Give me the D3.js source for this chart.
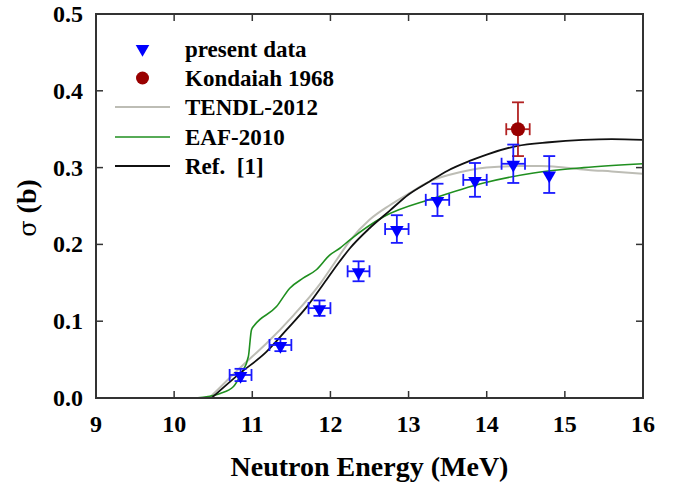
<!DOCTYPE html>
<html>
<head>
<meta charset="utf-8">
<script src="https://cdn.jsdelivr.net/npm/d3@7"></script>
<style>
  body { margin: 0; background: #fff; }
  text { font-family: "Liberation Serif", "Times New Roman", serif; font-weight: bold; fill: #000; }
</style>
</head>
<body>
<svg id="chart" width="682" height="485"></svg>
<script>
// present data: energy, sigma, dE, dSigma
const presentE   = [10.85, 11.36, 11.86, 12.36, 12.85, 13.37, 13.85, 14.34, 14.80];
const presentS   = [0.030, 0.069, 0.117, 0.165, 0.220, 0.258, 0.284, 0.305, 0.291];
const presentDE  = [0.14, 0.14, 0.14, 0.14, 0.15, 0.15, 0.15, 0.15, 0.0];
const presentDS  = [0.008, 0.008, 0.010, 0.013, 0.018, 0.021, 0.022, 0.025, 0.024];

const kondE = [14.40], kondS = [0.350], kondDE = [0.15], kondDS = [0.035];

const tendlE = [10.45, 10.6, 10.84, 11.0, 11.18, 11.53, 11.87, 12.08, 12.25, 12.5, 12.76, 13.0, 13.27, 13.5, 13.79, 14.0, 14.38, 14.7, 14.99, 15.3, 15.6, 16.0];
const tendlS = [0.000, 0.015, 0.039, 0.054, 0.071, 0.108, 0.149, 0.180, 0.205, 0.232, 0.251, 0.266, 0.282, 0.290, 0.297, 0.300, 0.302, 0.302, 0.300, 0.297, 0.295, 0.292];

const eafE = [10.27, 10.59, 10.76, 10.86, 10.95, 10.99, 11.03, 11.31, 11.48, 11.65, 11.82, 11.99, 12.12, 12.25, 12.68, 13.32, 13.96, 14.60, 15.24, 16.0];
const eafS = [0.000, 0.006, 0.015, 0.032, 0.054, 0.089, 0.095, 0.119, 0.143, 0.156, 0.167, 0.186, 0.195, 0.206, 0.236, 0.260, 0.280, 0.293, 0.300, 0.305];

const refE = [10.48, 10.84, 11.18, 11.44, 11.70, 11.95, 12.12, 12.25, 12.5, 12.76, 13.0, 13.27, 13.5, 13.79, 14.0, 14.38, 14.8, 15.23, 15.6, 16.0];
const refS = [0.000, 0.032, 0.060, 0.089, 0.119, 0.154, 0.178, 0.195, 0.221, 0.244, 0.265, 0.282, 0.296, 0.309, 0.317, 0.328, 0.333, 0.336, 0.337, 0.336];

const xTicks = [9, 10, 11, 12, 13, 14, 15, 16];
const yTicks = [0.0, 0.1, 0.2, 0.3, 0.4, 0.5];

const legendLabels = ['present data', 'Kondaiah 1968', 'TENDL-2012', 'EAF-2010', 'Ref.  [1]'];

const svg = d3.select('#chart');
const margin = { left: 96, right: 39, top: 14, bottom: 87 };
const W = 682, H = 485;

const x = d3.scaleLinear().domain([9, 16]).range([margin.left, W - margin.right]);
const y = d3.scaleLinear().domain([0, 0.5]).range([H - margin.bottom, margin.top]);

const plot = svg.append('g');

// curves
const line = d3.line().x(d => x(d[0])).y(d => y(d[1])).curve(d3.curveMonotoneX);
const curves = [
  { E: tendlE, S: tendlS, color: '#bdbdb5', w: 2 },
  { E: eafE, S: eafS, color: '#1f8f1f', w: 1.6 },
  { E: refE, S: refS, color: '#111', w: 1.8 }
];
curves.forEach(c => {
  plot.append('path')
    .datum(c.E.map((e, i) => [e, c.S[i]]))
    .attr('fill', 'none')
    .attr('stroke', c.color)
    .attr('stroke-width', c.w)
    .attr('d', line);
});

// error bars
function errorBars(E, S, DE, DS, color) {
  const g = plot.append('g').attr('stroke', color).attr('stroke-width', 1.8).attr('fill', 'none');
  E.forEach((e, i) => {
    const cx = x(e), cy = y(S[i]);
    if (DS[i] > 0) {
      const y0 = y(S[i] - DS[i]), y1 = y(S[i] + DS[i]);
      g.append('line').attr('x1', cx).attr('x2', cx).attr('y1', y0).attr('y2', y1);
      g.append('line').attr('x1', cx - 6).attr('x2', cx + 6).attr('y1', y0).attr('y2', y0);
      g.append('line').attr('x1', cx - 6).attr('x2', cx + 6).attr('y1', y1).attr('y2', y1);
    }
    if (DE[i] > 0) {
      const x0 = x(e - DE[i]), x1 = x(e + DE[i]);
      g.append('line').attr('x1', x0).attr('x2', x1).attr('y1', cy).attr('y2', cy);
      g.append('line').attr('x1', x0).attr('x2', x0).attr('y1', cy - 6).attr('y2', cy + 6);
      g.append('line').attr('x1', x1).attr('x2', x1).attr('y1', cy - 6).attr('y2', cy + 6);
    }
  });
}
errorBars(kondE, kondS, kondDE, kondDS, '#b22222');
errorBars(presentE, presentS, presentDE, presentDS, '#1a1aff');

const tri = d3.symbol().type(d3.symbolTriangle).size(80);
plot.selectAll('path.pd')
  .data(presentE)
  .join('path')
  .attr('class', 'pd')
  .attr('fill', '#0000ff')
  .attr('transform', (d, i) => `translate(${x(d)},${y(presentS[i]) + 1}) rotate(180)`)
  .attr('d', tri);

plot.selectAll('circle.kd')
  .data(kondE)
  .join('circle')
  .attr('class', 'kd')
  .attr('fill', '#990000')
  .attr('cx', d => x(d))
  .attr('cy', (d, i) => y(kondS[i]))
  .attr('r', 7);

// frame + inward ticks
const axisColor = '#333';
svg.append('rect')
  .attr('x', x(9)).attr('y', y(0.5))
  .attr('width', x(16) - x(9)).attr('height', y(0) - y(0.5))
  .attr('fill', 'none').attr('stroke', axisColor).attr('stroke-width', 2);

const tickLen = 7;
const ticks = svg.append('g').attr('stroke', axisColor).attr('stroke-width', 1.5);
xTicks.slice(1, -1).forEach(t => {
  ticks.append('line').attr('x1', x(t)).attr('x2', x(t)).attr('y1', y(0)).attr('y2', y(0) - tickLen);
  ticks.append('line').attr('x1', x(t)).attr('x2', x(t)).attr('y1', y(0.5)).attr('y2', y(0.5) + tickLen);
});
yTicks.slice(1, -1).forEach(t => {
  ticks.append('line').attr('x1', x(9)).attr('x2', x(9) + tickLen).attr('y1', y(t)).attr('y2', y(t));
  ticks.append('line').attr('x1', x(16)).attr('x2', x(16) - tickLen).attr('y1', y(t)).attr('y2', y(t));
});

// tick labels
svg.selectAll('text.xt')
  .data(xTicks)
  .join('text')
  .attr('class', 'xt')
  .attr('x', d => x(d))
  .attr('y', y(0) + 34)
  .attr('text-anchor', 'middle')
  .style('font-size', '24px')
  .text(d => d);

svg.selectAll('text.yt')
  .data(yTicks)
  .join('text')
  .attr('class', 'yt')
  .attr('x', x(9) - 13)
  .attr('y', d => y(d) + 8)
  .attr('text-anchor', 'end')
  .style('font-size', '24px')
  .text(d => d3.format('.1f')(d));

// axis titles
svg.append('text')
  .attr('x', (x(9) + x(16)) / 2)
  .attr('y', 476)
  .attr('text-anchor', 'middle')
  .style('font-size', '28px')
  .text('Neutron Energy (MeV)');

const yTitle = svg.append('text')
  .attr('transform', `translate(36,208) rotate(-90)`)
  .attr('text-anchor', 'middle')
  .style('font-size', '28px');
yTitle.append('tspan')
  .style('font-family', '"DejaVu Serif", serif')
  .style('font-weight', 'normal')
  .style('font-size', '24px')
  .text('σ');
yTitle.append('tspan').text(' (b)');

// legend
const legY = [49, 78, 107, 137, 166];
const leg = svg.append('g');
const legX0 = 115, legX1 = 170, legTx = 185;
leg.append('path').attr('fill', '#0000ff')
  .attr('transform', `translate(${(legX0 + legX1) / 2},${legY[0]}) rotate(180)`).attr('d', tri);
leg.append('circle').attr('fill', '#990000').attr('cx', (legX0 + legX1) / 2).attr('cy', legY[1]).attr('r', 6.5);
curves.forEach((c, i) => {
  leg.append('line').attr('x1', legX0).attr('x2', legX1)
    .attr('y1', legY[i + 2]).attr('y2', legY[i + 2])
    .attr('stroke', c.color).attr('stroke-width', c.w);
});
leg.selectAll('text.lg')
  .data(legendLabels)
  .join('text')
  .attr('class', 'lg')
  .attr('x', legTx)
  .attr('y', (d, i) => legY[i] + 8)
  .style('font-size', '23px')
  .style('white-space', 'pre')
  .text(d => d);
</script>
</body>
</html>
